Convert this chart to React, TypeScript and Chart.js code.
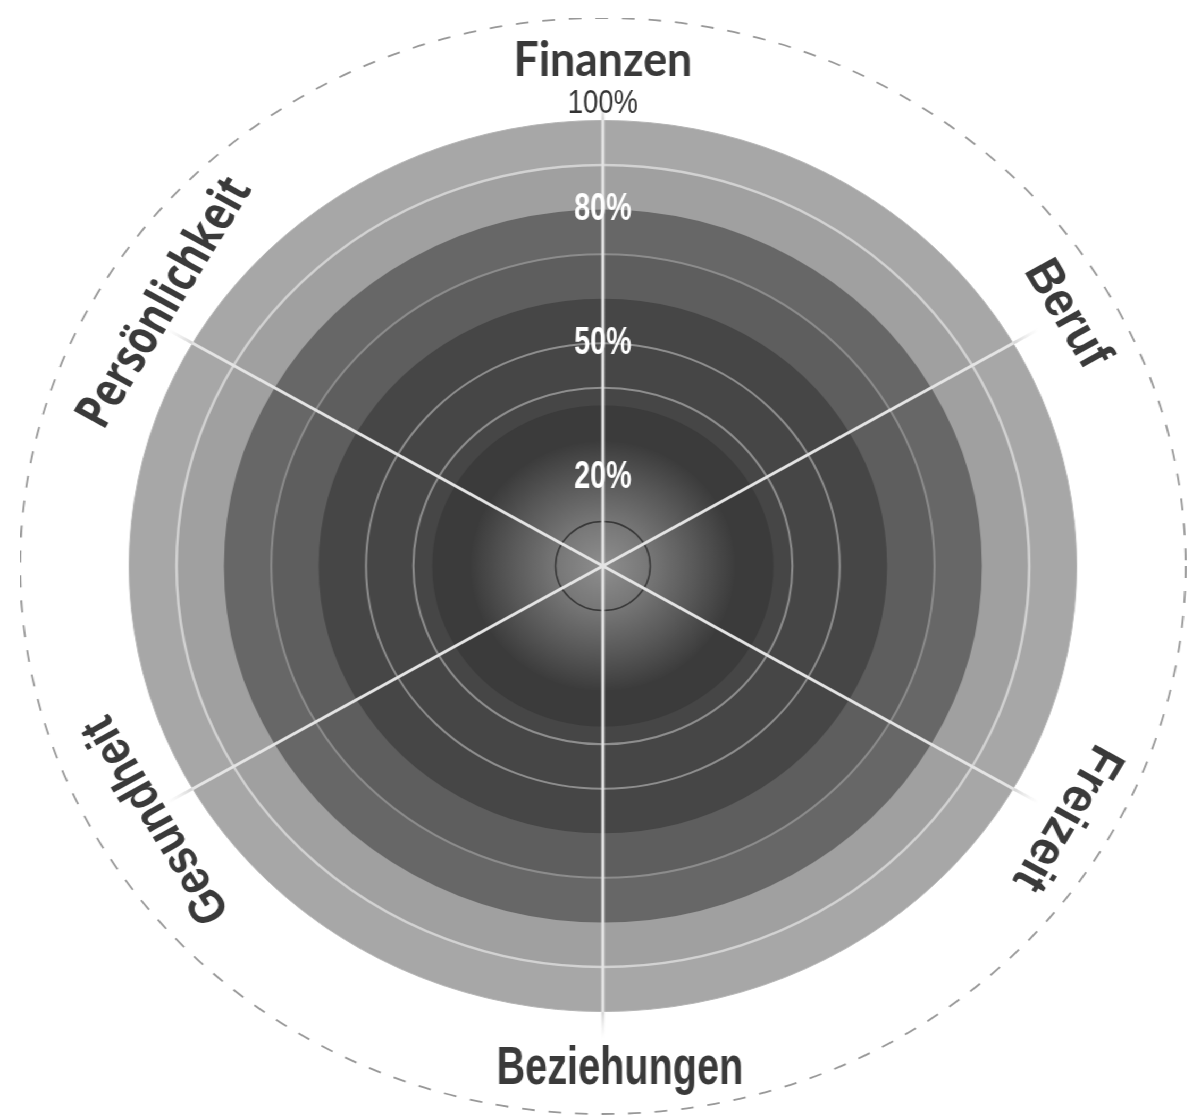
import React, { useEffect, useRef } from 'react';
import { Chart, registerables } from 'chart.js';

Chart.register(...registerables);

// ---- data ----
const CATEGORIES = ['Finanzen', 'Beruf', 'Freizeit', 'Beziehungen', 'Gesundheit', 'Persönlichkeit'];
// outer value (in %) of each concentric band, innermost first
const BAND_LIMITS = [28, 36, 60, 70, 80, 90, 100];
const BAND_COLORS = ['gradient', '#3b3b3b', '#464646', '#5e5e5e', '#676767', '#a0a0a0', '#a7a7a7'];
const TICK_VALUES = [0, 10, 20, 40, 50, 70, 80, 90, 100, 123];
const TICK_LABEL_VALUES = [20, 50, 80, 100];
const TICK_LABEL_TEXT = ['20%', '50%', '80%', '100%'];
const SCALE_MAX = 123;

const STRETCH_X = 1.0633;
const TEXT_COLOR = '#3a3a3a';

const LABEL_STYLES = [
  { weight: 700, size: 48, family: "Lato, 'Liberation Sans', sans-serif", maxWidth: 168, at: 113.5, shift: 0 },
  { weight: 700, size: 48, family: "'Liberation Sans', sans-serif", maxWidth: 116, at: 113, shift: 0 },
  { weight: 700, size: 48, family: "'Liberation Sans', sans-serif", maxWidth: 160, at: 113, shift: 0 },
  { weight: 700, size: 53, family: "'Liberation Sans', sans-serif", maxWidth: 232, at: 113, shift: -16 },
  { weight: 700, size: 48, family: "'Liberation Sans', sans-serif", maxWidth: 231, at: 110, shift: 10 },
  { weight: 700, size: 48, family: "'Open Sans', sans-serif", maxWidth: 280, at: 109.5, shift: -22 },
];

const tickLabel = (v: number) => {
  const i = TICK_LABEL_VALUES.indexOf(v);
  return i >= 0 ? TICK_LABEL_TEXT[i] : '';
};

const gridColor = (v: number) => {
  if (v === 10) return '#383838';
  if (v === 40 || v === 50) return '#8e8e8e';
  if (v === 70) return '#8c8c8c';
  if (v === 90) return '#d2d2d2';
  if (v === 100) return '#b4b4b4';
  if (v === SCALE_MAX) return '#989898';
  return 'rgba(0,0,0,0)';
};
const gridWidth = (v: number) => {
  if (v === 10) return 1.5;
  if (v === 40 || v === 50 || v === 70) return 2;
  if (v === 90) return 2.5;
  if (v === 100) return 1;
  if (v === SCALE_MAX) return 1.8;
  return 0;
};

const labelPlugin = {
  id: 'wheelLabels',
  afterDraw(chart: any) {
    const s = chart.scales.r;
    const ctx = chart.ctx;
    // category labels, written along their spoke
    CATEGORIES.forEach((name, i) => {
      const st = LABEL_STYLES[i];
      const p = s.getPointPosition(i, s.getDistanceFromCenterForValue(st.at));
      let rot = s.getIndexAngle(i);
      if (Math.abs(rot - Math.PI) < 1e-6) rot = 0;
      ctx.save();
      ctx.translate(p.x, p.y);
      ctx.rotate(rot);
      ctx.font = `${st.weight} ${st.size}px ${st.family}`;
      ctx.fillStyle = TEXT_COLOR;
      ctx.textAlign = 'center';
      ctx.textBaseline = 'middle';
      ctx.fillText(name, -st.shift, 0, st.maxWidth);
      ctx.restore();
    });
    // percentage labels on the top spoke
    TICK_LABEL_VALUES.forEach((v, i) => {
      const text = TICK_LABEL_TEXT[i];
      const outer = v >= 100;
      const d = s.getDistanceFromCenterForValue(v) + (outer ? 17 : 0);
      ctx.save();
      ctx.font = outer ? "400 34px 'Liberation Sans', sans-serif" : "700 39px 'Liberation Sans', sans-serif";
      ctx.fillStyle = outer ? '#333333' : '#ffffff';
      ctx.textAlign = 'center';
      ctx.textBaseline = 'middle';
      ctx.fillText(text, s.xCenter, s.yCenter - d, outer ? 66 : 54);
      ctx.restore();
    });
  },
};

export default function App() {
  const canvasRef = useRef<HTMLCanvasElement | null>(null);

  useEffect(() => {
    if (!canvasRef.current) return;
    const datasets = BAND_LIMITS.map((lim, bi) => ({
      data: CATEGORIES.map(() => lim),
      borderWidth: 0,
      backgroundColor:
        BAND_COLORS[bi] === 'gradient'
          ? (c: any) => {
              const s = c.chart.scales.r;
              if (!s || !s.drawingArea) return '#555555';
              const r = s.getDistanceFromCenterForValue(lim);
              const g = c.chart.ctx.createRadialGradient(s.xCenter, s.yCenter, 0, s.xCenter, s.yCenter, r);
              g.addColorStop(0, '#8e8e8e');
              g.addColorStop(0.35, '#777777');
              g.addColorStop(0.7, '#585858');
              g.addColorStop(1, '#3c3c3c');
              return g;
            }
          : BAND_COLORS[bi],
    }));

    const chart = new Chart(canvasRef.current, {
      type: 'polarArea',
      data: { labels: CATEGORIES, datasets },
      options: {
        animation: false,
        responsive: true,
        maintainAspectRatio: false,
        layout: { padding: 0 },
        plugins: { legend: { display: false }, tooltip: { enabled: false } },
        scales: {
          r: {
            min: 0,
            max: SCALE_MAX,
            startAngle: 0,
            afterBuildTicks: (s: any) => {
              s.ticks = TICK_VALUES.map((v) => ({ value: v }));
            },
            ticks: {
              display: false,
              callback: (v: any) => tickLabel(v),
            },
            grid: {
              z: 1,
              circular: true,
              color: (c: any) => gridColor(c.tick ? c.tick.value : -1),
              lineWidth: (c: any) => gridWidth(c.tick ? c.tick.value : -1),
            },
            border: {
              dash: (c: any) => (c.tick && c.tick.value === SCALE_MAX ? [12, 13] : []),
            },
            angleLines: {
              display: true,
              lineWidth: 3,
              color: (c: any) => {
                const s = c.chart.scales.r;
                if (!s || !s.drawingArea) return '#e4e4e4';
                const g = c.chart.ctx.createRadialGradient(s.xCenter, s.yCenter, 0, s.xCenter, s.yCenter, s.drawingArea);
                const e = s.getDistanceFromCenterForValue(100) / s.drawingArea;
                g.addColorStop(0, '#e4e4e4');
                g.addColorStop(e, '#e4e4e4');
                g.addColorStop(Math.min(1, e + 0.003), 'rgba(205,205,205,0.8)');
                g.addColorStop(Math.min(1, e + 0.05), 'rgba(230,230,230,0)');
                g.addColorStop(1, 'rgba(255,255,255,0)');
                return g;
              },
            },
            pointLabels: { display: false },
          } as any,
        },
      },
      plugins: [labelPlugin],
    } as any);

    return () => chart.destroy();
  }, []);

  return (
    <div
      style={{
        position: 'absolute',
        left: 0,
        top: 0,
        width: 1192 / STRETCH_X,
        height: 1119,
        overflow: 'hidden',
        background: '#ffffff',
        transform: `scaleX(${STRETCH_X})`,
        transformOrigin: '0 0',
      }}
    >
      <div style={{ position: 'absolute', left: 19, top: 18, width: 1097, height: 1097 }}>
        <canvas ref={canvasRef} />
      </div>
    </div>
  );
}
